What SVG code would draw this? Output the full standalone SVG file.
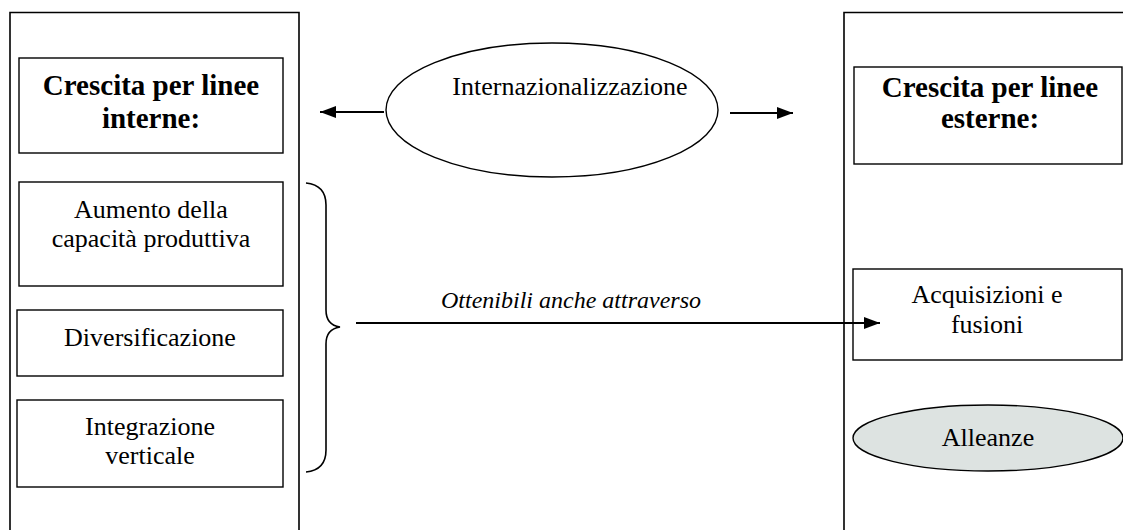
<svg xmlns="http://www.w3.org/2000/svg" width="1123" height="530" viewBox="0 0 1123 530">
  <defs>
    <marker id="arrow" viewBox="0 0 16 12" refX="16" refY="6" markerWidth="16" markerHeight="12" markerUnits="userSpaceOnUse" orient="auto">
      <path d="M0,0 L16,6 L0,12 z" fill="#000"/>
    </marker>
    <style>
      .panel { fill: #fff; stroke: #000; stroke-width: 1.6; }
      .box { fill: #fff; stroke: #000; stroke-width: 1.4; }
      .oval { fill: #fff; stroke: #000; stroke-width: 1.4; }
      .grey { fill: #dde3e1; stroke: #000; stroke-width: 1.4; }
      .t { font-family: "Liberation Serif", "Times New Roman", serif; font-size: 26px; fill: #000; text-anchor: middle; }
      .h { font-family: "Liberation Serif", "Times New Roman", serif; font-size: 29px; font-weight: bold; fill: #000; text-anchor: middle; }
      .i { font-style: italic; font-size: 24px; }
      .conn { fill: none; stroke: #000; stroke-width: 2; }
      .brace { fill: none; stroke: #000; stroke-width: 1.6; }
    </style>
  </defs>
  <rect width="1123" height="530" fill="#fff"/>

  <!-- left column: internal growth -->
  <g id="panel-interne">
    <path class="panel" d="M10,540 V12.5 H299 V540"/>
  </g>
  <g id="head-interne">
    <rect class="box" x="19" y="58" width="264" height="95"/>
    <text class="h" x="151" y="95">Crescita per linee</text>
    <text class="h" x="151" y="128">interne:</text>
  </g>
  <g id="aumento">
    <rect class="box" x="19" y="182" width="264" height="104"/>
    <text class="t" x="151" y="218">Aumento della</text>
    <text class="t" x="151" y="247">capacità produttiva</text>
  </g>
  <g id="diversificazione">
    <rect class="box" x="17" y="310" width="266" height="66"/>
    <text class="t" x="150" y="346">Diversificazione</text>
  </g>
  <g id="integrazione">
    <rect class="box" x="17" y="400" width="266" height="87"/>
    <text class="t" x="150" y="435">Integrazione</text>
    <text class="t" x="150" y="464">verticale</text>
  </g>

  <!-- centre -->
  <g id="internazionalizzazione">
    <ellipse class="oval" cx="552" cy="110" rx="166" ry="67"/>
    <text class="t" x="570" y="95">Internazionalizzazione</text>
  </g>

  <!-- right column: external growth -->
  <g id="panel-esterne">
    <path class="panel" d="M844,540 V12.5 H1130"/>
  </g>
  <g id="head-esterne">
    <rect class="box" x="854" y="67" width="268" height="97"/>
    <text class="h" x="990" y="97">Crescita per linee</text>
    <text class="h" x="990" y="128">esterne:</text>
  </g>
  <g id="acquisizioni">
    <rect class="box" x="853" y="269" width="269" height="91"/>
    <text class="t" x="987" y="303">Acquisizioni e</text>
    <text class="t" x="987" y="333">fusioni</text>
  </g>
  <g id="alleanze">
    <ellipse class="grey" cx="988" cy="438" rx="135" ry="33"/>
    <text class="t" x="988" y="446">Alleanze</text>
  </g>

  <!-- connectors -->
  <g id="connectors">
    <path class="conn" d="M384,112 H320" marker-end="url(#arrow)"/>
    <path class="conn" d="M730,113 H793" marker-end="url(#arrow)"/>
    <path class="brace" d="M306,183 Q326,185 326,205 V310 Q326,325 340,327 Q326,329 326,344 V450 Q326,470 306,472"/>
    <path class="conn" d="M356,323 H880" marker-end="url(#arrow)"/>
    <text class="t i" x="571" y="308">Ottenibili anche attraverso</text>
  </g>
</svg>
